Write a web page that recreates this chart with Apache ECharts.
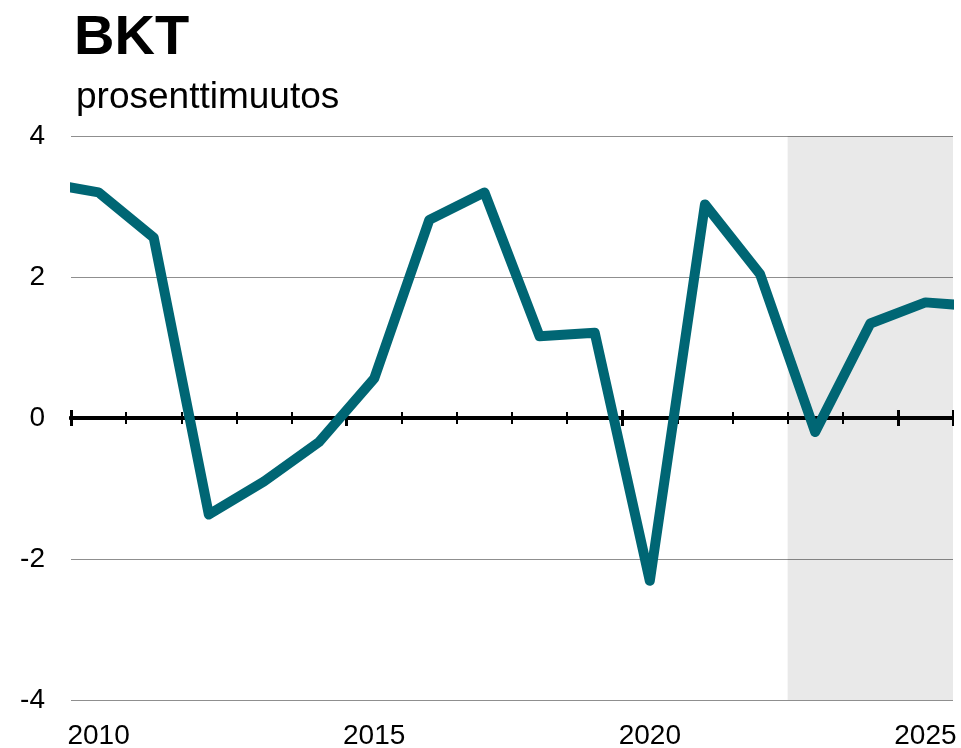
<!DOCTYPE html>
<html>
<head>
<meta charset="utf-8">
<script src="https://cdn.jsdelivr.net/npm/echarts@6/dist/echarts.min.js"></script>
<style>
  html, body { margin: 0; padding: 0; background: #fff; }
  #chart { width: 961px; height: 748px; }
</style>
</head>
<body>
<div id="chart"></div>
<script>
// BKT, annual percentage change (first and last points run past the plot edges)
const years = [2009, 2010, 2011, 2012, 2013, 2014, 2015, 2016, 2017, 2018,
  2019, 2020, 2021, 2022, 2023, 2024, 2025, 2026]
const gdpChange = [3.34, 3.2, 2.56, -1.37, -0.9, -0.34, 0.56, 2.81, 3.2, 1.16,
  1.21, -2.31, 3.03, 2.04, -0.2, 1.34, 1.64, 1.58]
const yearLabels = [2010, 2015, 2020, 2025]
const forecastRange = [2022.5, 2025.5]

const font = 'Liberation Sans, Arial, sans-serif'
const chart = echarts.init(document.getElementById('chart'))

// tick-only axes sitting on the zero line (ticks both up and down)
const tickAxis = (interval, inside, len, width) => ({
  type: 'value',
  position: 'bottom',
  min: 0,
  max: years.length - 2,
  interval,
  axisLine: { show: true, onZero: true, onZeroAxisIndex: 0, lineStyle: { color: '#000', width: 4 } },
  axisTick: { show: true, inside, length: len, lineStyle: { color: '#000', width } },
  axisLabel: { show: false },
  splitLine: { show: false }
})

chart.setOption({
  animation: false,
  title: [
    { text: 'BKT', left: 74, top: 11, padding: 0,
      textStyle: { fontFamily: font, fontSize: 56, fontWeight: 'bold', color: '#000' } },
    { text: 'prosenttimuutos', left: 76, top: 79, padding: 0,
      textStyle: { fontFamily: font, fontSize: 37, fontWeight: 'normal', color: '#000' } }
  ],
  grid: { left: 71, right: 8, top: 136, bottom: 48, outerBoundsMode: 'none', containLabel: false },
  // line clip is padded by half the stroke, so mask the margins
  graphic: [
    { type: 'rect', left: 0, top: 165, shape: { width: 70, height: 50 }, style: { fill: '#fff' }, z: 100 },
    { type: 'rect', left: 954, top: 150, shape: { width: 10, height: 545 }, style: { fill: '#fff' }, z: 100 }
  ],
  xAxis: [
    {
      type: 'value',
      position: 'bottom',
      min: 2009.5,
      max: 2025.5,
      interval: 0.5,
      axisLine: { show: false, onZero: false },
      axisTick: { show: false },
      splitLine: { show: false },
      axisLabel: {
        fontFamily: font, fontSize: 28, color: '#000', margin: 22,
        formatter: v => (yearLabels.includes(v) ? String(v) : '')
      }
    },
    tickAxis(1, false, 6, 2),
    tickAxis(1, true, 6, 2),
    tickAxis(5, false, 8, 3),
    tickAxis(5, true, 8, 3)
  ],
  yAxis: {
    type: 'value',
    min: -4,
    max: 4,
    interval: 2,
    axisLine: { show: false },
    axisTick: { show: false },
    splitLine: { lineStyle: { color: '#8f8f8f', width: 1 } },
    axisLabel: { fontFamily: font, fontSize: 28, color: '#000', margin: 26 }
  },
  series: [{
    type: 'line',
    xAxisIndex: 0,
    data: years.map((y, i) => [y, gdpChange[i]]),
    showSymbol: false,
    symbol: 'none',
    clip: true,
    z: 5,
    lineStyle: { color: '#006674', width: 10, join: 'round' },
    markArea: {
      silent: true,
      itemStyle: { color: 'rgba(0,0,0,0.085)' },
      data: [[{ xAxis: forecastRange[0] }, { xAxis: forecastRange[1] }]]
    }
  }]
})
</script>
</body>
</html>
